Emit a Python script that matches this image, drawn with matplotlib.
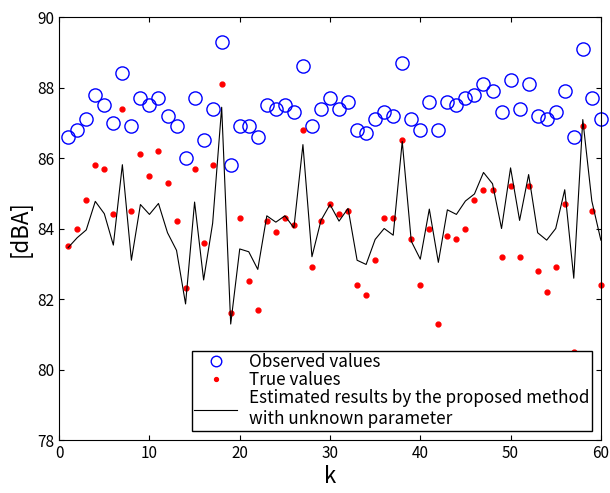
import numpy as np
import matplotlib.pyplot as plt

plt.rcParams['font.family'] = ['Noto Sans CJK JP', 'DejaVu Sans']

k = np.arange(1, 61)

observed = [86.6, 86.8, 87.1, 87.8, 87.5, 87.0, 88.4, 86.9, 87.7, 87.5,
            87.7, 87.2, 86.9, 86.0, 87.7, 86.5, 87.4, 89.3, 85.8, 86.9,
            86.9, 86.6, 87.5, 87.4, 87.5, 87.3, 88.6, 86.9, 87.4, 87.7,
            87.4, 87.6, 86.8, 86.7, 87.1, 87.3, 87.2, 88.7, 87.1, 86.8,
            87.6, 86.8, 87.6, 87.5, 87.7, 87.8, 88.1, 87.9, 87.3, 88.2,
            87.4, 88.1, 87.2, 87.1, 87.3, 87.9, 86.6, 89.1, 87.7, 87.1]

true_vals = [83.5, 84.0, 84.8, 85.8, 85.7, 84.4, 87.4, 84.5, 86.1, 85.5,
             86.2, 85.3, 84.2, 82.3, 85.7, 83.6, 85.8, 88.1, 81.6, 84.3,
             82.5, 81.7, 84.2, 83.9, 84.3, 84.1, 86.8, 82.9, 84.2, 84.7,
             84.4, 84.5, 82.4, 82.1, 83.1, 84.3, 84.3, 86.5, 83.7, 82.4,
             84.0, 81.3, 83.8, 83.7, 84.0, 84.8, 85.1, 85.1, 83.2, 85.2,
             83.2, 85.2, 82.8, 82.2, 82.9, 84.7, 80.5, 86.9, 84.5, 82.4]

estimated = [83.46, 83.74, 83.96, 84.77, 84.42, 83.53, 85.81, 83.10, 84.68, 84.40,
             84.71, 83.88, 83.38, 81.86, 84.75, 82.54, 84.15, 87.44, 81.29, 83.42,
             83.34, 82.84, 84.36, 84.18, 84.36, 84.02, 86.38, 83.20, 84.23, 84.68,
             84.21, 84.57, 83.10, 82.98, 83.69, 84.00, 83.81, 86.47, 83.64, 83.13,
             84.55, 83.04, 84.53, 84.40, 84.78, 84.98, 85.59, 85.27, 84.00, 85.72,
             84.23, 85.53, 83.88, 83.67, 84.00, 85.10, 82.59, 87.09, 84.78, 83.67]

fig = plt.figure(figsize=(6.1, 4.93), dpi=100)
ax = fig.add_axes([0.097, 0.1075, 0.888, 0.858])

ax.plot(k, observed, 'o', markerfacecolor='none', markeredgecolor='blue',
        markersize=9.5, markeredgewidth=1.0, clip_on=False, label='Observed values')
ax.plot(k, true_vals, '.', color='red', markersize=7, clip_on=False, label='True values')
ax.plot(k, estimated, '-', color='black', linewidth=0.8,
        label='Estimated results by the proposed method\nwith unknown parameter')

ax.set_xlim(0, 60)
ax.set_ylim(78, 90)
ax.set_xticks(np.arange(0, 61, 10))
ax.set_yticks(np.arange(78, 91, 2))
ax.tick_params(direction='in', top=True, right=True, labelsize=11)
ax.set_xlabel('k', fontsize=16, labelpad=2)
ax.set_ylabel('[dBA]', fontsize=16)

leg = ax.legend(loc='lower right', fontsize=12.3, frameon=True, fancybox=False,
                edgecolor='black', framealpha=1, borderpad=0.15, borderaxespad=0,
                handlelength=2.5, handletextpad=0.7, labelspacing=0.0,
                markerscale=0.8, bbox_to_anchor=(0.984, 0.022))
leg.get_frame().set_linewidth(1.0)

plt.savefig('out.png', dpi=100)
